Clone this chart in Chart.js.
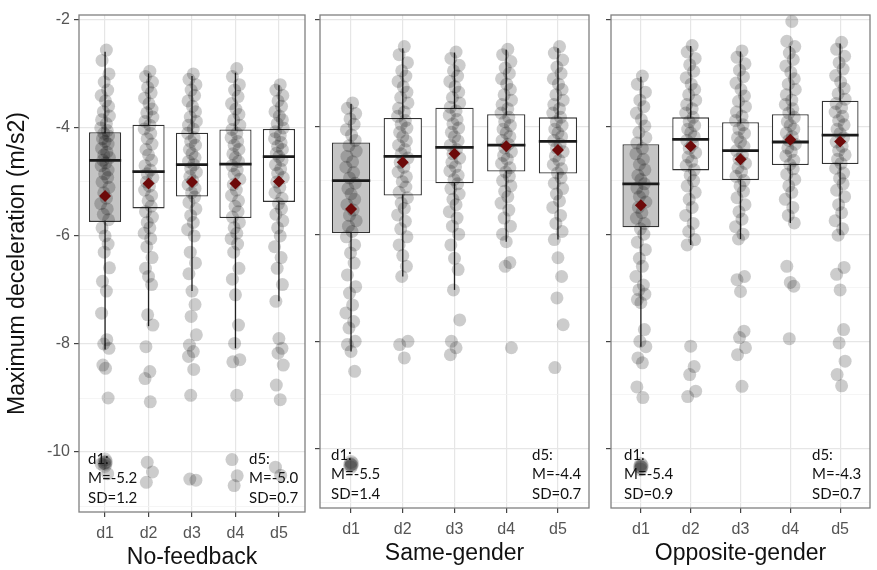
<!DOCTYPE html>
<html>
<head>
<meta charset="utf-8">
<script src="https://cdn.jsdelivr.net/npm/chart.js@4.4.1/dist/chart.umd.min.js"></script>
<style>
  body { margin: 0; background: #fff; width: 877px; height: 570px; position: relative; overflow: hidden; }
  canvas { position: absolute; top: 0; }
</style>
</head>
<body>
<canvas id="p1" width="312" height="570" style="left:0px"></canvas>
<canvas id="p2" width="283" height="566" style="left:313px"></canvas>
<canvas id="p3" width="273" height="566" style="left:604px"></canvas>
<script>
// categories and axis ticks
const categories = ['d1', 'd2', 'd3', 'd4', 'd5'];
const yTicks = [-11, -10, -9, -8, -7, -6, -5, -4, -3, -2];

// No-feedback boxplot stats
const nfLow = [-8.10, -7.67, -7.02, -8.08, -7.21];
const nfQ1 = [-5.74, -5.49, -5.27, -5.67, -5.37];
const nfMedian = [-4.60, -4.81, -4.68, -4.67, -4.53];
const nfQ3 = [-4.08, -3.94, -4.09, -4.03, -4.02];
const nfHigh = [-2.59, -2.99, -3.04, -2.98, -3.21];
const nfMean = [-5.26, -5.03, -5.00, -5.03, -4.99];

// Same-gender boxplot stats
const sgLow = [-8.19, -6.79, -7.04, -6.14, -6.10];
const sgQ1 = [-5.98, -5.28, -5.05, -4.83, -4.87];
const sgMedian = [-5.00, -4.55, -4.38, -4.34, -4.27];
const sgQ3 = [-4.29, -3.83, -3.64, -3.76, -3.82];
const sgHigh = [-3.57, -2.53, -2.61, -2.56, -2.53];
const sgMean = [-5.53, -4.66, -4.50, -4.36, -4.43];

// Opposite-gender boxplot stats
const ogLow = [-8.10, -6.20, -6.09, -5.79, -6.02];
const ogQ1 = [-5.87, -4.81, -4.99, -4.71, -4.69];
const ogMedian = [-5.06, -4.23, -4.44, -4.28, -4.15];
const ogQ3 = [-4.32, -3.82, -3.91, -3.76, -3.51];
const ogHigh = [-3.06, -2.49, -2.59, -2.49, -2.44];
const ogMean = [-5.46, -4.36, -4.60, -4.24, -4.27];

const nfPoints = [
  [-2.56, -2.75, -3.0, -3.15, -3.3, -3.4, -3.5, -3.6, -3.7, -3.78, -3.85, -3.92, -4.0, -4.05, -4.1, -4.15, -4.2, -4.25, -4.3, -4.38, -4.45, -4.5, -4.55, -4.6, -4.65, -4.7, -4.78, -4.85, -4.92, -5.0, -5.1, -5.2, -5.3, -5.4, -5.5, -5.6, -5.7, -5.85, -6.0, -6.15, -6.3, -6.59, -6.84, -7.02, -7.43, -7.92, -8.0, -8.08, -8.39, -8.45, -9.0, -10.22, -10.4],
  [-2.95, -3.05, -3.15, -3.25, -3.35, -3.45, -3.55, -3.65, -3.72, -3.8, -3.88, -3.95, -4.02, -4.1, -4.2, -4.3, -4.4, -4.5, -4.6, -4.7, -4.78, -4.85, -4.92, -5.0, -5.08, -5.15, -5.25, -5.35, -5.45, -5.55, -5.65, -5.75, -5.85, -5.95, -6.05, -6.2, -6.4, -6.6, -6.75, -6.9, -7.46, -7.65, -8.05, -8.51, -8.64, -9.07, -10.19, -10.37, -10.56],
  [-3.0, -3.1, -3.2, -3.3, -3.4, -3.5, -3.6, -3.7, -3.8, -3.88, -3.95, -4.02, -4.1, -4.18, -4.25, -4.32, -4.4, -4.48, -4.55, -4.62, -4.68, -4.75, -4.82, -4.9, -4.98, -5.05, -5.12, -5.2, -5.28, -5.38, -5.5, -5.62, -5.75, -5.88, -6.0, -6.3, -6.5, -6.7, -7.02, -7.27, -7.49, -7.83, -8.02, -8.14, -8.23, -8.47, -8.95, -10.52, -10.5],
  [-2.9, -3.05, -3.2, -3.3, -3.42, -3.55, -3.65, -3.75, -3.85, -3.95, -4.03, -4.1, -4.18, -4.25, -4.32, -4.4, -4.48, -4.55, -4.62, -4.7, -4.78, -4.86, -4.95, -5.05, -5.15, -5.25, -5.35, -5.45, -5.55, -5.65, -5.75, -5.85, -5.95, -6.05, -6.15, -6.3, -6.6, -6.8, -7.09, -7.65, -7.99, -8.29, -8.33, -8.95, -10.14, -10.44, -10.62],
  [-3.2, -3.3, -3.4, -3.5, -3.6, -3.7, -3.78, -3.85, -3.92, -4.0, -4.07, -4.14, -4.2, -4.27, -4.34, -4.4, -4.47, -4.53, -4.6, -4.68, -4.76, -4.84, -4.92, -5.0, -5.1, -5.2, -5.3, -5.4, -5.5, -5.6, -5.72, -5.85, -6.0, -6.2, -6.4, -6.6, -6.9, -7.21, -7.9, -8.08, -8.17, -8.39, -8.76, -9.03, -10.28, -10.43]
];
const sgPoints = [
  [-3.55, -3.65, -3.75, -3.85, -3.95, -4.05, -4.15, -4.25, -4.35, -4.45, -4.55, -4.65, -4.75, -4.85, -4.95, -5.05, -5.15, -5.25, -5.35, -5.45, -5.55, -5.65, -5.75, -5.85, -5.95, -6.05, -6.2, -6.35, -6.54, -6.76, -6.98, -7.1, -7.32, -7.47, -7.63, -7.75, -8.0, -8.06, -8.19, -8.56],
  [-2.5, -2.65, -2.8, -2.95, -3.05, -3.15, -3.25, -3.35, -3.45, -3.55, -3.65, -3.72, -3.8, -3.88, -3.95, -4.02, -4.1, -4.18, -4.26, -4.34, -4.42, -4.5, -4.58, -4.66, -4.75, -4.84, -4.93, -5.02, -5.12, -5.22, -5.32, -5.42, -5.52, -5.64, -5.76, -5.9, -6.05, -6.2, -6.4, -6.6, -6.79, -8.0, -8.06, -8.31],
  [-2.6, -2.72, -2.85, -2.95, -3.05, -3.15, -3.25, -3.35, -3.45, -3.55, -3.63, -3.7, -3.78, -3.86, -3.94, -4.02, -4.1, -4.18, -4.26, -4.34, -4.42, -4.5, -4.58, -4.66, -4.74, -4.82, -4.9, -4.98, -5.06, -5.15, -5.25, -5.35, -5.45, -5.58, -5.7, -5.85, -6.0, -6.2, -6.45, -6.66, -7.04, -7.6, -8.0, -8.12, -8.25],
  [-2.55, -2.65, -2.78, -2.9, -3.0, -3.1, -3.2, -3.3, -3.4, -3.5, -3.58, -3.66, -3.74, -3.82, -3.9, -3.97, -4.04, -4.11, -4.18, -4.25, -4.32, -4.39, -4.46, -4.53, -4.6, -4.68, -4.76, -4.84, -4.92, -5.0, -5.1, -5.2, -5.3, -5.42, -5.55, -5.7, -5.85, -6.0, -6.14, -6.53, -6.6, -8.12],
  [-2.5, -2.62, -2.75, -2.88, -3.0, -3.1, -3.2, -3.3, -3.4, -3.5, -3.58, -3.66, -3.74, -3.82, -3.9, -3.97, -4.04, -4.11, -4.18, -4.25, -4.32, -4.39, -4.46, -4.54, -4.62, -4.7, -4.78, -4.86, -4.95, -5.05, -5.15, -5.25, -5.38, -5.5, -5.65, -5.8, -5.95, -6.1, -6.44, -6.79, -7.19, -7.69, -8.49]
];
const ogPoints = [
  [-3.05, -3.2, -3.35, -3.5, -3.62, -3.74, -3.86, -3.98, -4.1, -4.2, -4.3, -4.4, -4.5, -4.6, -4.7, -4.8, -4.9, -4.98, -5.06, -5.14, -5.22, -5.3, -5.4, -5.5, -5.6, -5.7, -5.8, -5.9, -6.0, -6.15, -6.29, -6.45, -6.6, -6.79, -6.95, -7.04, -7.12, -7.22, -7.28, -7.78, -8.0, -8.1, -8.31, -8.4, -8.85, -9.05],
  [-2.48, -2.6, -2.72, -2.84, -2.96, -3.08, -3.2, -3.3, -3.4, -3.5, -3.58, -3.66, -3.74, -3.82, -3.9, -3.97, -4.04, -4.11, -4.18, -4.25, -4.32, -4.4, -4.48, -4.56, -4.64, -4.72, -4.8, -4.9, -5.0, -5.1, -5.22, -5.35, -5.5, -5.65, -5.8, -5.95, -6.1, -6.2, -8.09, -8.47, -8.62, -8.93, -9.03],
  [-2.58, -2.7, -2.82, -2.94, -3.06, -3.18, -3.3, -3.42, -3.52, -3.62, -3.72, -3.8, -3.88, -3.96, -4.04, -4.12, -4.2, -4.28, -4.36, -4.44, -4.52, -4.6, -4.68, -4.76, -4.84, -4.92, -5.0, -5.1, -5.2, -5.32, -5.45, -5.58, -5.72, -5.86, -6.0, -6.09, -6.79, -6.85, -7.07, -7.81, -7.93, -8.12, -8.25, -8.84],
  [-2.03, -2.4, -2.5, -2.62, -2.74, -2.86, -2.98, -3.1, -3.2, -3.3, -3.4, -3.5, -3.58, -3.66, -3.74, -3.82, -3.9, -3.97, -4.04, -4.11, -4.18, -4.25, -4.32, -4.39, -4.46, -4.54, -4.62, -4.7, -4.78, -4.88, -4.98, -5.1, -5.22, -5.35, -5.5, -5.65, -5.79, -6.6, -6.9, -6.97, -7.95],
  [-2.42, -2.55, -2.68, -2.8, -2.92, -3.04, -3.16, -3.28, -3.38, -3.48, -3.56, -3.64, -3.72, -3.8, -3.88, -3.96, -4.04, -4.12, -4.2, -4.28, -4.36, -4.44, -4.52, -4.6, -4.68, -4.77, -4.86, -4.96, -5.06, -5.18, -5.3, -5.45, -5.6, -5.75, -5.9, -6.02, -6.62, -6.75, -7.04, -7.78, -8.03, -8.37, -8.62, -8.83]
];

// dark cluster of stacked points under d1
const nfBlob = [-10.14, -10.18, -10.2, -10.22, -10.26, -10.2];
const sgBlob = [-10.25, -10.28, -10.3, -10.32, -10.35, -10.3];
const ogBlob = [-10.29, -10.32, -10.34, -10.36, -10.39, -10.34];

// annotation text
const nfStats = [['d1:', 'M=-5.2', 'SD=1.2'], ['d5:', 'M=-5.0', 'SD=0.7']];
const sgStats = [['d1:', 'M=-5.5', 'SD=1.4'], ['d5:', 'M=-4.4', 'SD=0.7']];
const ogStats = [['d1:', 'M=-5.4', 'SD=0.9'], ['d5:', 'M=-4.3', 'SD=0.7']];

// horizontal jitter (category units), styling only
const jitter = [0.03, -0.07, 0.09, -0.02, 0.06, -0.09, 0.01, 0.08, -0.04, 0.1, -0.08, 0.03, -0.1, 0.05, -0.03, 0.08, -0.06, 0.0, 0.07, -0.08, 0.04, -0.03, 0.1, -0.05, 0.02, -0.09, 0.07, -0.01, 0.06, -0.07, 0.09, -0.03, 0.03, -0.1, 0.05, -0.04, 0.08, -0.07, 0.0, 0.07, -0.02, 0.1, -0.06, 0.03, -0.08, 0.04, -0.03, 0.09, -0.05, 0.01, 0.07, -0.09, 0.06, -0.01, 0.02, -0.07];
const blobJitter = [0.0, 0.02, -0.02, 0.01, -0.01, 0.0];

const BOX_W = 0.74;
const FONT = "'Liberation Sans', Arial, sans-serif";

const panelPlugin = {
  id: 'panelDeco',
  afterDatasetsDraw(chart, args, opts) {
    const { ctx, chartArea: a } = chart;
    ctx.save();
    ctx.strokeStyle = '#808080';
    ctx.lineWidth = 1.3;
    ctx.strokeRect(a.left, a.top, a.right - a.left, a.bottom - a.top);
    ctx.font = '15px Lato, sans-serif';
    ctx.fillStyle = '#111';
    ctx.textBaseline = 'middle';
    const rows = [53, 34, 14];
    opts.stats[0].forEach((t, i) => ctx.fillText(t, a.left + opts.leftPad, a.bottom - rows[i]));
    opts.stats[1].forEach((t, i) => ctx.fillText(t, a.right - opts.rightPad, a.bottom - rows[i]));
    ctx.restore();
  }
};

function makePanel(id, s) {
  const idx = categories.map((c, i) => i + 1);
  const pts = [];
  s.points.forEach((arr, g) => arr.forEach((y, j) => pts.push({ x: g + 1 + jitter[j % jitter.length], y: y })));

  new Chart(document.getElementById(id), {
    type: 'bar',
    data: {
      datasets: [
        {
          label: 'whisker',
          data: idx.map((x, i) => ({ x: x, y: [s.low[i], s.high[i]] })),
          backgroundColor: '#222',
          grouped: false,
          maxBarThickness: 1.3,
          order: 6
        },
        {
          label: 'box',
          data: idx.map((x, i) => ({ x: x, y: [s.q1[i], s.q3[i]] })),
          backgroundColor: categories.map((c, i) => i === 0 ? '#c4c4c4' : '#ffffff'),
          borderColor: '#333',
          borderWidth: 1.3,
          borderSkipped: false,
          grouped: false,
          barPercentage: BOX_W,
          categoryPercentage: 1,
          order: 5
        },
        {
          type: 'scatter',
          label: 'points',
          data: pts,
          pointRadius: 6.5,
          pointBackgroundColor: 'rgba(0,0,0,0.2)',
          pointBorderWidth: 0,
          order: 4
        },
        {
          type: 'scatter',
          label: 'blob',
          data: s.blob.map((y, k) => ({ x: 1 + blobJitter[k], y: y })),
          pointRadius: 7,
          pointBackgroundColor: 'rgba(0,0,0,0.16)',
          pointBorderWidth: 0,
          order: 3
        },
        {
          type: 'scatter',
          label: 'median',
          data: idx.map((x, i) => ({ x: x, y: s.median[i] })),
          pointStyle: 'line',
          pointRadius: c => {
            const sc = c.chart.scales.x;
            return sc.getPixelForValue(1 + BOX_W / 2) - sc.getPixelForValue(1);
          },
          pointBorderColor: '#1a1a1a',
          pointBorderWidth: 2.8,
          order: 2
        },
        {
          type: 'scatter',
          label: 'mean',
          data: idx.map((x, i) => ({ x: x, y: s.mean[i] })),
          pointStyle: 'rectRot',
          pointRadius: 6,
          pointBackgroundColor: '#6d0a0a',
          pointBorderWidth: 0,
          order: 1
        }
      ]
    },
    options: {
      responsive: false,
      animation: false,
      events: [],
      layout: { padding: { top: 15, right: 4, bottom: 0, left: 0 } },
      plugins: {
        legend: { display: false },
        tooltip: { enabled: false },
        panelDeco: { stats: s.stats, leftPad: s.leftPad, rightPad: s.rightPad }
      },
      scales: {
        x: {
          type: 'linear',
          min: 0.4,
          max: 5.6,
          offset: false,
          afterBuildTicks: sc => { sc.ticks = idx.map(v => ({ value: v })); },
          afterFit: sc => { sc.height = s.xHeight; },
          ticks: {
            autoSkip: false,
            maxRotation: 0,
            padding: 7,
            color: '#555',
            font: { family: FONT, size: 16 },
            callback: v => categories[Math.round(v) - 1]
          },
          grid: { offset: false, color: '#e6e6e6', lineWidth: 1.2, tickLength: 5, tickColor: '#444' },
          border: { display: false },
          title: {
            display: true,
            text: s.title,
            color: '#111',
            font: { family: FONT, size: 23, lineHeight: 1.1 },
            padding: { top: 0, bottom: 0 }
          }
        },
        y: {
          type: 'linear',
          min: -11.11,
          max: -1.91,
          beginAtZero: false,
          afterBuildTicks: sc => { sc.ticks = yTicks.map(v => ({ value: v })); },
          afterFit: sc => { sc.width = s.yWidth; },
          ticks: {
            display: s.showY,
            autoSkip: false,
            padding: 4,
            color: '#555',
            font: { family: FONT, size: 16 },
            callback: v => (v % 2 === 0 ? String(v) : '')
          },
          grid: {
            color: c => (c.tick && c.tick.value % 2 === 0 ? '#e6e6e6' : '#f2f2f2'),
            lineWidth: c => (c.tick && c.tick.value % 2 === 0 ? 1.2 : 0.8),
            tickLength: 5,
            tickColor: c => (c.tick && c.tick.value % 2 === 0 ? '#444' : 'rgba(0,0,0,0)')
          },
          border: { display: false },
          title: {
            display: s.showY,
            text: 'Maximum deceleration (m/s2)',
            color: '#111',
            font: { family: FONT, size: 23, lineHeight: 1.1 },
            padding: { top: 5, bottom: 0 }
          }
        }
      }
    },
    plugins: [panelPlugin]
  });
}

makePanel('p1', {
  title: 'No-feedback', low: nfLow, q1: nfQ1, median: nfMedian, q3: nfQ3, high: nfHigh, mean: nfMean,
  points: nfPoints, blob: nfBlob, stats: nfStats, showY: true, yWidth: 79, xHeight: 58, leftPad: 9, rightPad: 56
});
makePanel('p2', {
  title: 'Same-gender', low: sgLow, q1: sgQ1, median: sgMedian, q3: sgQ3, high: sgHigh, mean: sgMean,
  points: sgPoints, blob: sgBlob, stats: sgStats, showY: false, yWidth: 6, xHeight: 58, leftPad: 11, rightPad: 57
});
makePanel('p3', {
  title: 'Opposite-gender', low: ogLow, q1: ogQ1, median: ogMedian, q3: ogQ3, high: ogHigh, mean: ogMean,
  points: ogPoints, blob: ogBlob, stats: ogStats, showY: false, yWidth: 6, xHeight: 58, leftPad: 13, rightPad: 58
});
</script>
</body>
</html>
